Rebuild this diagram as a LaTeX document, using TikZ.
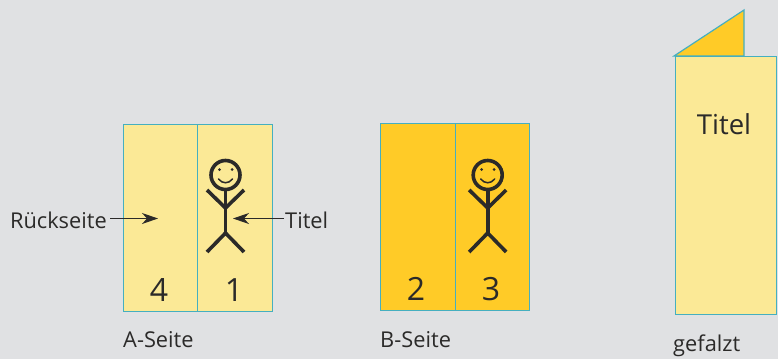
\documentclass[tikz,border=0pt]{standalone}
\usepackage{fontspec}
\setmainfont{Open Sans}
\usetikzlibrary{positioning,arrows.meta}
\definecolor{bggray}{HTML}{E0E1E3}
\definecolor{paleyellow}{HTML}{FBE996}
\definecolor{deepyellow}{HTML}{FFCB27}
\definecolor{edgeteal}{HTML}{45AFC0}
\definecolor{inkgray}{HTML}{2B2A29}
\tikzset{
  panel/.style={rectangle, draw=edgeteal, line width=1.2pt, inner sep=0pt, minimum width=74.5pt, minimum height=187pt, anchor=north west},
  caption/.style={inner sep=0pt, anchor=base west, text=inkgray, font=\fontsize{21.8}{26}\selectfont},
  pagenum/.style={inner sep=0pt, anchor=base, text=inkgray, font=\fontsize{32}{36}\selectfont},
  pointer/.style={-{Stealth[length=16pt,width=11pt,inset=5pt]}, line width=1pt, color=inkgray},
  limb/.style={line width=3.6pt, color=inkgray},
  stickman/.pic={
    \draw[limb] (0,0) circle (14.5);
    \draw[limb] (0,14.5) -- (0,58);
    \draw[limb] (-18.5,15) -- (0,33) -- (18.5,15);
    \draw[limb] (-18.5,77) -- (0,58) -- (18.5,77);
    \fill[inkgray] (-6,-5.5) circle (1.5) (6.5,-5.5) circle (1.5);
    \draw[inkgray, line width=1.5pt, line cap=round] (-7,4) .. controls (-3,9) and (3,9) .. (7,4);
  }
}
\begin{document}
\begin{tikzpicture}[x=1pt,y=-1pt]
  \useasboundingbox[fill=bggray] (0,0) rectangle (778,359);
  % A-Seite
  \node[panel, fill=paleyellow] (a4) at (122.5,124) {};
  \node[panel, fill=paleyellow] (a1) at (197,124) {};
  \pic at (225.5,175) {stickman};
  \node[pagenum] (n4) at (159,301) {4};
  \node[pagenum] (n1) at (234,301) {1};
  \node[caption, anchor=base east] (back) at (107,228) {Rückseite};
  \node[caption] (title) at (285,228) {Titel};
  \coordinate (backtip) at (158,218.5);
  \coordinate (titletip) at (233,218.5);
  \draw[pointer] ([xshift=3pt]back.east |- backtip) -- (backtip);
  \draw[pointer] ([xshift=-1pt]title.west |- titletip) -- (titletip);
  \node[caption] (acap) at (123,347) {A-Seite};
  % B-Seite
  \node[panel, fill=deepyellow] (b2) at (380,123) {};
  \node[panel, fill=deepyellow] (b3) at (454.5,123) {};
  \pic at (487.7,175) {stickman};
  \node[pagenum] (n2) at (416,300) {2};
  \node[pagenum] (n3) at (491,300) {3};
  \node[caption] (bcap) at (380,347) {B-Seite};
  % gefalzt
  \draw[edgeteal, line width=1.2pt, fill=deepyellow] (674,56) -- (744,10) -- (744,56) -- cycle;
  \node[panel, fill=paleyellow, minimum width=101.5pt, minimum height=257.5pt] (fold) at (674.5,56) {};
  \node[inner sep=0pt, anchor=base, text=inkgray, font=\fontsize{27.5}{32}\selectfont] (ftitle) at (724,134) {Titel};
  \node[caption] (fcap) at (673,351) {gefalzt};
\end{tikzpicture}
\end{document}
